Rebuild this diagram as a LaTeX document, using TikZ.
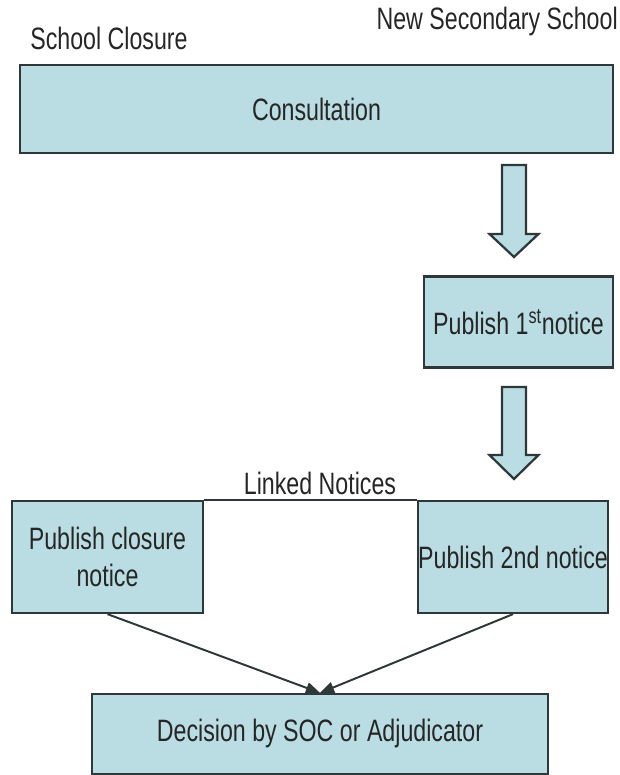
\documentclass[tikz,border=0pt]{standalone}
\usepackage{fontspec}
\setmainfont[FakeStretch=0.75]{Liberation Sans}
\usetikzlibrary{positioning,arrows.meta}
\definecolor{figfill}{HTML}{B9DDE3}
\definecolor{figline}{HTML}{2E3838}
\tikzset{
  figbox/.style={draw=figline, line width=1.6pt, fill=figfill, align=center,
    inner sep=0pt, text=black!85, font=\fontsize{22}{26}\selectfont},
  figlabel/.style={font=\fontsize{22}{26}\selectfont, text=black!85, inner sep=0pt},
  figarrow/.style={-{Triangle[length=10pt,width=8pt]}, line width=1.4pt, figline},
  figblock/.style={draw=figline, line width=1.6pt, fill=figfill, line join=miter},
}

\begin{document}
\begin{tikzpicture}[x=0.025cm,y=0.025cm]
  \useasboundingbox (0,0) rectangle (619,775);
  % Spaltenköpfe
  \node[figlabel, anchor=west] (closure) at (30,737) {School Closure};
  \node[figlabel, anchor=east] (newsec) at (618,753) {New Secondary School};
  % Konsultation
  \node[figbox, minimum width=14.825cm, minimum height=2.2cm] (cons) at (316.5,666) {Consultation};
  \node[figbox, minimum width=4.725cm, minimum height=2.275cm] (first) at (518.5,453) {Publish 1\textsuperscript{st}notice};
  % Blockpfeile
  \foreach \t/\b/\p in {610/541/518, 388/320/296}
    \draw[figblock] (502,\t) -- (526,\t) -- (526,\b) -- (538.5,\b) -- (514,\p)
      -- (489.5,\b) -- (502,\b) -- cycle;
  % verknüpfte Bekanntmachungen
  \node[figbox, minimum width=4.775cm, minimum height=2.8cm] (close) at (107.5,218) {Publish closure\\notice};
  \node[figbox, minimum width=4.75cm, minimum height=2.8cm] (second) at (513,218) {Publish 2nd notice};
  \draw[line width=1.4pt, figline] (close.north east) -- (second.north west);
  \node[figlabel] (linked) at (320,292) {Linked Notices};
  % Entscheidung
  \node[figbox, minimum width=11.4cm, minimum height=2cm] (dec) at (320,41) {Decision by SOC or Adjudicator};
  \foreach \n in {close,second} \draw[figarrow] (\n.south) -- (dec.north);
\end{tikzpicture}
\end{document}
